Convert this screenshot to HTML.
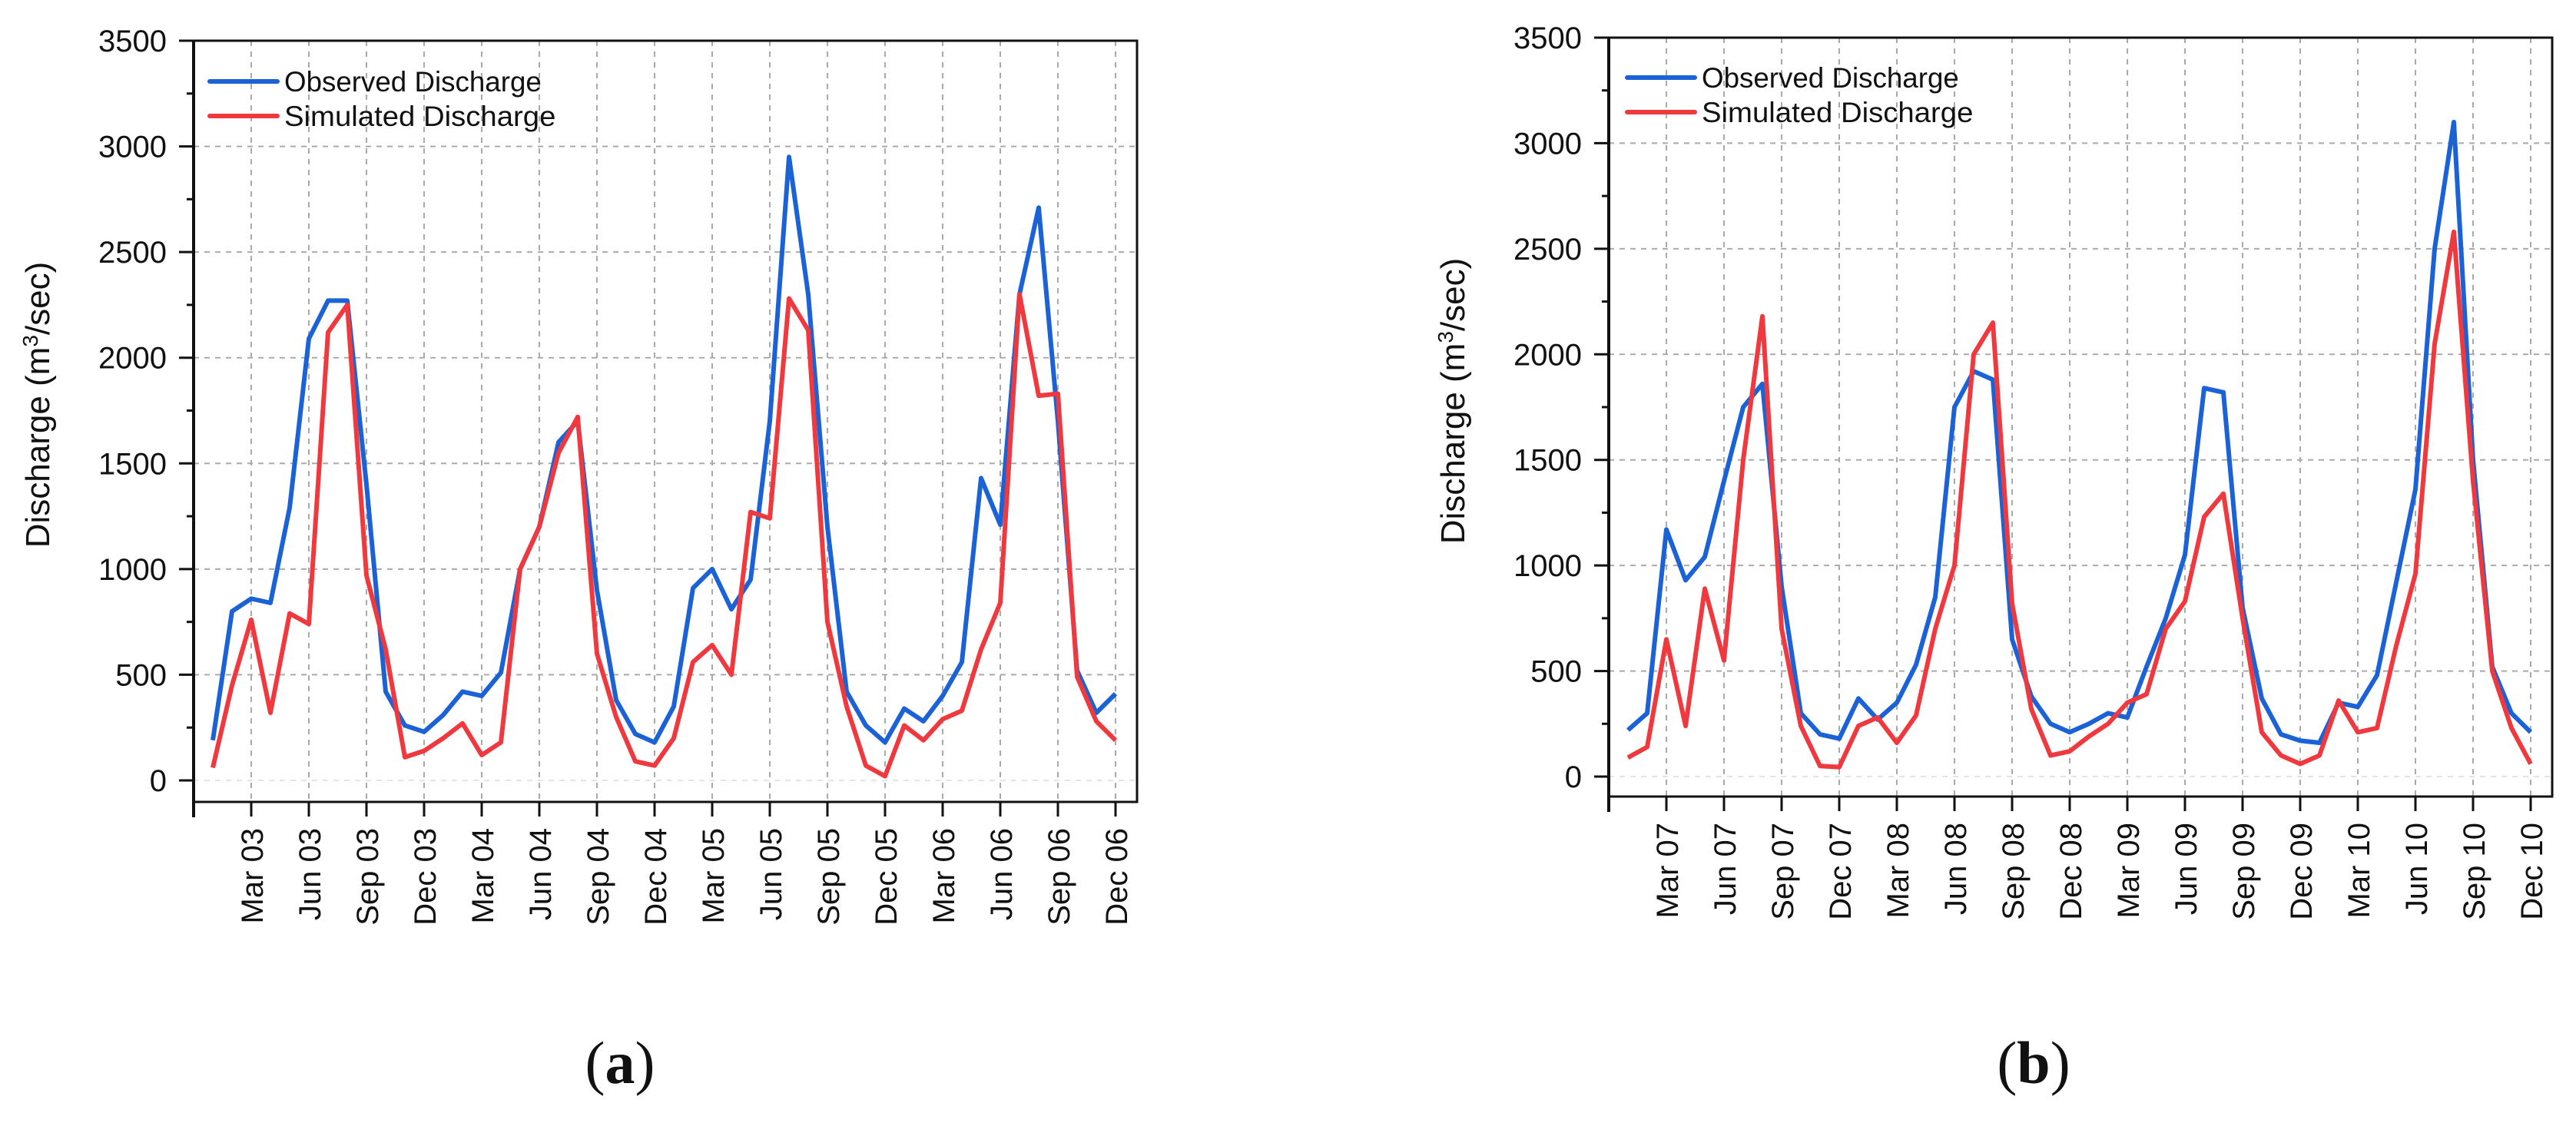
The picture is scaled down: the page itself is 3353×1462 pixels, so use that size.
<!DOCTYPE html>
<html><head><meta charset="utf-8"><style>
html,body{margin:0;padding:0;background:#fff}
svg{display:block}
text{font-family:"Liberation Sans",Arial,sans-serif;fill:#111}
</style></head><body>
<svg id="fig" width="3353" height="1462" viewBox="0 0 3353 1462" xmlns="http://www.w3.org/2000/svg"></svg>
<script>
const monthsA = ["Jan 03","Feb 03","Mar 03","Apr 03","May 03","Jun 03","Jul 03","Aug 03","Sep 03","Oct 03","Nov 03","Dec 03","Jan 04","Feb 04","Mar 04","Apr 04","May 04","Jun 04","Jul 04","Aug 04","Sep 04","Oct 04","Nov 04","Dec 04","Jan 05","Feb 05","Mar 05","Apr 05","May 05","Jun 05","Jul 05","Aug 05","Sep 05","Oct 05","Nov 05","Dec 05","Jan 06","Feb 06","Mar 06","Apr 06","May 06","Jun 06","Jul 06","Aug 06","Sep 06","Oct 06","Nov 06","Dec 06"];
const observedA = [190,800,860,840,1290,2090,2270,2270,1400,420,260,230,310,420,400,510,1000,1200,1600,1700,900,380,220,180,350,910,1000,810,950,1700,2950,2300,1200,420,260,180,340,280,400,560,1430,1210,2300,2710,1700,520,320,410];
const simulatedA = [60,450,760,320,790,740,2120,2250,970,620,110,140,200,270,120,180,1000,1200,1550,1720,600,300,90,70,200,560,640,500,1270,1240,2280,2130,750,350,70,20,260,190,290,330,620,840,2300,1820,1830,490,280,190];
const monthsB = ["Jan 07","Feb 07","Mar 07","Apr 07","May 07","Jun 07","Jul 07","Aug 07","Sep 07","Oct 07","Nov 07","Dec 07","Jan 08","Feb 08","Mar 08","Apr 08","May 08","Jun 08","Jul 08","Aug 08","Sep 08","Oct 08","Nov 08","Dec 08","Jan 09","Feb 09","Mar 09","Apr 09","May 09","Jun 09","Jul 09","Aug 09","Sep 09","Oct 09","Nov 09","Dec 09","Jan 10","Feb 10","Mar 10","Apr 10","May 10","Jun 10","Jul 10","Aug 10","Sep 10","Oct 10","Nov 10","Dec 10"];
const observedB = [220,300,1170,930,1040,1400,1750,1860,900,300,200,180,370,270,350,530,850,1750,1920,1880,650,380,250,210,250,300,280,520,750,1050,1840,1820,800,370,200,170,160,350,330,480,920,1360,2500,3100,1500,520,300,210];
const simulatedB = [90,140,650,240,890,550,1500,2180,700,240,50,45,240,280,160,290,700,1000,2000,2150,820,320,100,120,190,250,350,390,700,830,1230,1340,750,210,100,60,100,360,210,230,620,960,2050,2580,1400,500,230,60];
const yTicks = [0,500,1000,1500,2000,2500,3000,3500];

const NS="http://www.w3.org/2000/svg";
const svg=document.getElementById('fig');
function mk(tag,attrs,parent){const e=document.createElementNS(NS,tag);for(const k in attrs)e.setAttribute(k,attrs[k]);(parent||svg).appendChild(e);return e;}

function chart(cfg){
  const g=mk('g',{});
  
  
  const n=cfg.months.length;
  const xs=i=>cfg.x0+cfg.dx*i;
  const ys=v=>cfg.y0-v*(cfg.y0-cfg.yTop)/3500;
  yTicks.forEach(v=>{
    const l=mk('line',{x1:cfg.L,x2:cfg.R,y1:ys(v),y2:ys(v),stroke:v===0?'#e4e4e4':'#aaa','stroke-width':2,'stroke-dasharray':'7,7'},g);
    
    
  });
  for(let i=2;i<n;i+=3){
    const l=mk('line',{x1:xs(i),x2:xs(i),y1:cfg.T,y2:cfg.B,stroke:'#aaa','stroke-width':2,'stroke-dasharray':'7,7'},g);
    
    
  }
  function series(vals,color,name){
    const p=mk('polyline',{points:vals.map((v,i)=>xs(i)+','+ys(v)).join(' '),fill:'none',stroke:color,'stroke-width':6,'stroke-linejoin':'round'},g);
    
    
  }
  series(cfg.obs,'#1a62d6','observed-discharge-line');
  series(cfg.sim,'#f0393e','simulated-discharge-line');
  const fr=mk('rect',{x:cfg.L,y:cfg.T,width:cfg.R-cfg.L,height:cfg.B-cfg.T,fill:'none',stroke:'#111','stroke-width':3},g);
  
  
  mk('line',{x1:cfg.L,x2:cfg.L,y1:cfg.T,y2:cfg.B+20,stroke:'#111','stroke-width':4},g);
  yTicks.forEach(v=>{
    mk('line',{x1:cfg.L-19,x2:cfg.L,y1:ys(v),y2:ys(v),stroke:'#111','stroke-width':3},g);
    if(v<3500) mk('line',{x1:cfg.L-9,x2:cfg.L,y1:ys(v+250),y2:ys(v+250),stroke:'#111','stroke-width':3},g);
    const t=mk('text',{x:cfg.L-35,y:ys(v)+14,'text-anchor':'end','font-size':40},g);
    t.textContent=v;
    
    
  });
  for(let i=2;i<n;i+=3){
    mk('line',{x1:xs(i),x2:xs(i),y1:cfg.B,y2:cfg.B+19,stroke:'#111','stroke-width':3},g);
    const t=mk('text',{transform:`translate(${xs(i)+15},${cfg.B+34}) rotate(-90)`,'text-anchor':'end','font-size':40},g);
    t.textContent=cfg.months[i].replace(' ','\u00a0');
    
    
  }
  const yt=mk('text',{transform:`translate(${cfg.titleX},${cfg.titleY}) rotate(-90)`,'text-anchor':'middle','font-size':44},g);
  yt.innerHTML='Discharge (m<tspan baseline-shift="super" font-size="28">3</tspan>/sec)';
  
  
  [['Observed Discharge','#1a62d6',0],['Simulated Discharge','#f0393e',1]].forEach(([lab,c,k])=>{
    const y=cfg.legY+k*45;
    const ln=mk('line',{x1:cfg.legX,x2:cfg.legX+88,y1:y,y2:y,stroke:c,'stroke-width':6,'stroke-linecap':'round'},g);
    
    
    const t=mk('text',{x:cfg.legX+97,y:y+13,'font-size':37,textLength:lab.length*18.6,lengthAdjust:'spacingAndGlyphs'},g);
    t.textContent=lab;
    
    
  });
  const pl=mk('text',{x:cfg.panelX,y:1410,'text-anchor':'middle','font-size':78},g);
  pl.innerHTML='(<tspan font-weight="bold">'+cfg.id+'</tspan>)';
  pl.setAttribute('style','font-family:"Liberation Serif",serif');
  
  
}
chart({id:'a',months:monthsA,obs:observedA,sim:simulatedA,L:252,T:53,R:1480,B:1044,y0:1016,yTop:53,x0:277,dx:25,titleX:64,titleY:527,legX:273,legY:106,panelX:807});
chart({id:'b',months:monthsB,obs:observedB,sim:simulatedB,L:2094,T:49,R:3322,B:1037,y0:1011,yTop:49,x0:2119,dx:25,titleX:1906,titleY:522,legX:2118,legY:101,panelX:2647});
</script>
</body></html>
